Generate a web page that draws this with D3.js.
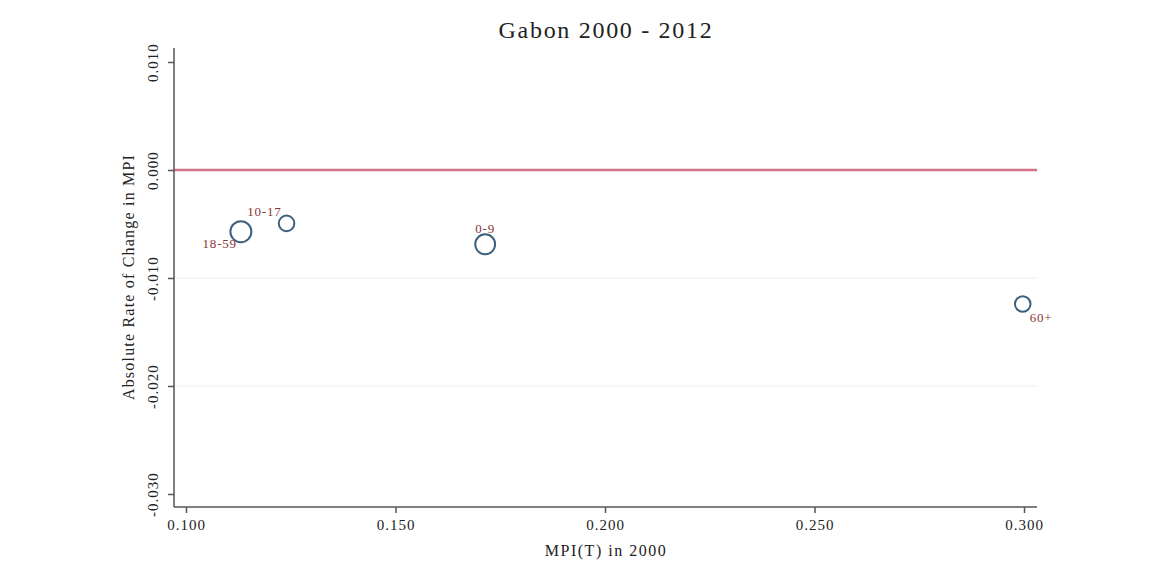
<!DOCTYPE html>
<html><head><meta charset="utf-8">
<script src="https://cdn.jsdelivr.net/npm/d3@7"></script>
<style>body{margin:0;background:#fff}svg{display:block}</style>
</head><body>
<svg id="chart" width="1151" height="575"></svg>
<script>
const groups = ["18-59", "10-17", "0-9", "60+"];
const mpi2000 = [0.1131, 0.1240, 0.1714, 0.2997];
const changeRate = [-0.00571, -0.00494, -0.00688, -0.01241];
const popWeight = [1.0, 0.55, 0.9, 0.55];
const labelPos = ["7", "11", "12", "4"];
const xTicks = [0.100, 0.150, 0.200, 0.250, 0.300];
const yTicks = [0.010, 0.000, -0.010, -0.020, -0.030];
const gridTicks = [-0.010, -0.020];
const refLine = 0.000;
const title = "Gabon 2000 - 2012";
const xTitle = "MPI(T) in 2000";
const yTitle = "Absolute Rate of Change in MPI";

const svg = d3.select("#chart");
const L = 174, R = 1037, T = 48, B = 507;
const x = d3.scaleLinear().domain([0.1 - 12/4190, 0.1 + 851/4190]).range([L, R]);
const y = d3.scaleLinear().domain([0, 0.01]).range([170, 62]);
const r = d3.scaleSqrt().domain([0, 1]).range([0, 10.5]);
const serif = "'Liberation Serif', 'DejaVu Serif', serif";
const fmt = v => d3.format(".3f")(v).replace("\u2212", "-");

// gridlines
svg.append("g").selectAll("line").data(gridTicks).join("line")
  .attr("x1", L).attr("x2", R).attr("y1", d => y(d)).attr("y2", d => y(d))
  .attr("stroke", "#eaeff2").attr("stroke-width", 1);

// reference line
svg.append("line").attr("x1", L).attr("x2", R).attr("y1", y(refLine)).attr("y2", y(refLine))
  .attr("stroke", "#d5728c").attr("stroke-width", 2.5);

// axes
const yAxis = svg.append("g").attr("transform", `translate(${L},0)`)
  .call(d3.axisLeft(y).tickValues(yTicks).tickFormat(fmt).tickSize(6).tickSizeOuter(0));
yAxis.select(".domain").attr("d", `M0,${T}V${B}`);
yAxis.selectAll(".tick text").attr("transform", "rotate(-90)").attr("x", 0).attr("y", -16)
  .attr("dy", "0").attr("text-anchor", "middle");
const xAxis = svg.append("g").attr("transform", `translate(0,${B})`)
  .call(d3.axisBottom(x).tickValues(xTicks).tickFormat(fmt).tickSize(6).tickSizeOuter(0));
xAxis.select(".domain").attr("d", `M${L},0H${R}`);
xAxis.selectAll(".tick text").attr("y", 12).attr("dy", "0.71em");
[yAxis, xAxis].forEach(a => {
  a.selectAll(".domain, .tick line").attr("stroke", "#555").attr("stroke-width", 1.5);
  a.selectAll("text").attr("font-family", serif).attr("font-size", 15)
    .attr("letter-spacing", 1).attr("fill", "#222");
});

// points
const data = groups.map((g, i) => ({g, x: mpi2000[i], y: changeRate[i], w: popWeight[i], p: labelPos[i]}));
svg.append("g").selectAll("circle").data(data).join("circle")
  .attr("cx", d => x(d.x)).attr("cy", d => y(d.y)).attr("r", d => r(d.w))
  .attr("fill", "none").attr("stroke", "#3d5f80").attr("stroke-width", 2);

// labels
const off = {
  "7": {dx: -4, dy: 16, a: "end"},
  "11": {dx: -5, dy: -7, a: "end"},
  "12": {dx: 0, dy: -11, a: "middle"},
  "4": {dx: 7, dy: 18, a: "start"}
};
svg.append("g").selectAll("text").data(data).join("text")
  .attr("x", d => x(d.x) + off[d.p].dx).attr("y", d => y(d.y) + off[d.p].dy)
  .attr("text-anchor", d => off[d.p].a)
  .attr("font-family", serif).attr("font-size", 13).attr("letter-spacing", 0.8).attr("fill", "#8a3535")
  .text(d => d.g);

// titles
svg.append("text").attr("x", 606).attr("y", 38).attr("text-anchor", "middle")
  .attr("font-family", serif).attr("font-size", 24).attr("letter-spacing", 1.7).attr("fill", "#222").text(title);
svg.append("text").attr("x", 606).attr("y", 556).attr("text-anchor", "middle")
  .attr("font-family", serif).attr("font-size", 16).attr("letter-spacing", 1.5).attr("fill", "#222").text(xTitle);
svg.append("text").attr("transform", `translate(134,277) rotate(-90)`).attr("text-anchor", "middle")
  .attr("font-family", serif).attr("font-size", 16).attr("letter-spacing", 1.2).attr("fill", "#222").text(yTitle);
</script>
</body></html>
